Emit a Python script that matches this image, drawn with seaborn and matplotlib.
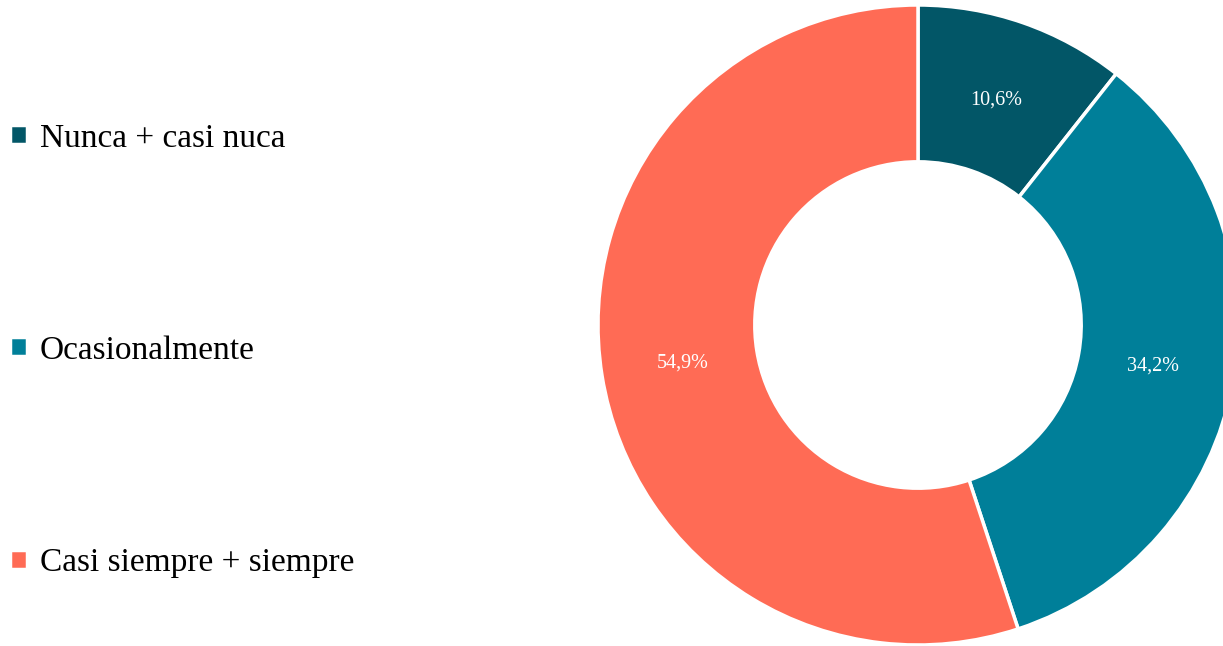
import seaborn as sns
import matplotlib.pyplot as plt

categories = ['Nunca + casi nuca', 'Ocasionalmente', 'Casi siempre + siempre']
values = [10.6, 34.2, 54.9]
labels = ['10,6%', '34,2%', '54,9%']
colors = ['#025667', '#007f99', '#ff6b55']

sns.set_theme(style='white')
plt.rcParams['font.family'] = ['Liberation Serif', 'DejaVu Serif']

fig = plt.figure(figsize=(12.23, 6.46), dpi=100)
# donut sits on the right, partly cut off by the figure edge
ax = fig.add_axes([598 / 1223, 1 / 646, 640 / 1223, 640 / 646])

wedges, texts, autotexts = ax.pie(
    values, colors=colors, startangle=90, counterclock=False,
    autopct='%1.1f%%', pctdistance=0.745,
    wedgeprops=dict(width=0.49, edgecolor='white', linewidth=2.5),
    textprops=dict(color='white', fontsize=14.5),
)
for t, lab in zip(autotexts, labels):
    t.set_text(lab)
ax.set_xlim(-1, 1)
ax.set_ylim(-1, 1)
ax.set_aspect('equal')

leg = fig.legend(wedges, categories, loc='center left', bbox_to_anchor=(0.0, 1 - 350.5 / 646),
                 frameon=False, fontsize=24, handlelength=0.5, handleheight=0.5,
                 handletextpad=0.4, labelspacing=5.45, borderaxespad=0.0, borderpad=0.3)
for t in leg.get_texts():
    t.set_color('black')

fig.savefig('out.png', dpi=100)
